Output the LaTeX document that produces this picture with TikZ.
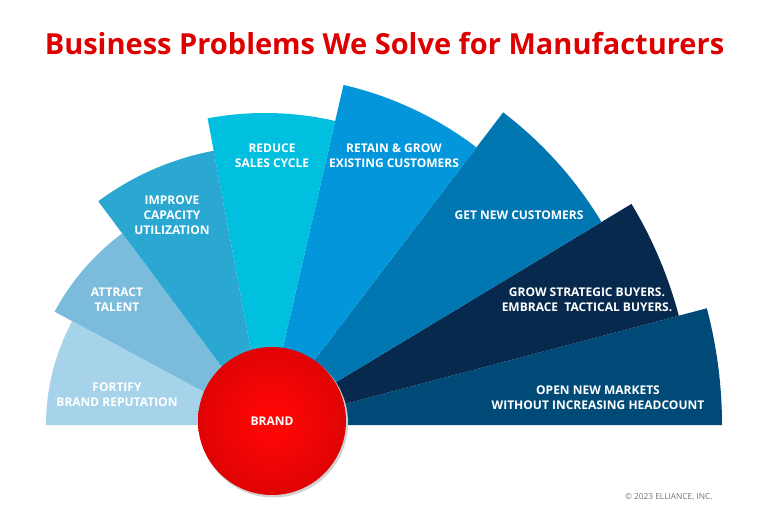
\documentclass[tikz,border=0pt]{standalone}
\usepackage{fontspec}
\setmainfont{Open Sans}
\usepackage{tikz}
\usepackage{xcolor}
\definecolor{titlered}{HTML}{DD0000}
\definecolor{cfortify}{HTML}{A6D3EA}
\definecolor{cattract}{HTML}{7BBCDC}
\definecolor{cimprove}{HTML}{2BA8D2}
\definecolor{creduce}{HTML}{00BFDF}
\definecolor{cretain}{HTML}{0396DA}
\definecolor{cgetnew}{HTML}{0177B2}
\definecolor{cgrow}{HTML}{08294E}
\definecolor{copen}{HTML}{004A77}
\definecolor{brandhi}{HTML}{FF0606}
\definecolor{brandlo}{HTML}{BA0000}
\pgfdeclareradialshading{brandball}{\pgfpoint{0bp}{0bp}}{color(0bp)=(brandhi); color(6bp)=(brandhi!95!brandlo); color(50bp)=(brandlo)}
\tikzset{fanlbl/.style={text=white, align=center, font=\bfseries\fontsize{12}{14.8}\selectfont}}

\begin{document}
\begin{tikzpicture}[x=1pt,y=1pt]
  \useasboundingbox (0,0) rectangle (768,512); \coordinate (C) at (265,87);
  \fill[copen] (C) -- ++(0:457) arc[start angle=0, end angle=14.8, radius=457] -- cycle;
  \fill[cgrow] (C) -- ++(14.8:428) arc[start angle=14.8, end angle=31.1, radius=428] -- cycle;
  \fill[cgetnew] (C) -- ++(31.1:393) arc[start angle=31.1, end angle=52.7, radius=393] -- cycle;
  \fill[cretain] (C) -- ++(52.7:349) arc[start angle=52.7, end angle=77, radius=349] -- cycle;
  \fill[creduce] (C) -- ++(77:312) arc[start angle=77, end angle=100.6, radius=312] -- cycle;
  \fill[cimprove] (C) -- ++(100.6:279) arc[start angle=100.6, end angle=126.7, radius=279] -- cycle;
  \fill[cattract] (C) -- ++(126.7:239) arc[start angle=126.7, end angle=151.7, radius=239] -- cycle;
  \fill[cfortify] (C) -- ++(151.7:219) arc[start angle=151.7, end angle=180, radius=219] -- cycle;
  \fill[black!18] (273.5,89) circle (74.5);
  \node[circle, minimum size=148pt, inner sep=0pt, shading=brandball, fanlbl] (brand) at (272,91) {BRAND};
  \node[anchor=base, text=titlered, font=\bfseries\fontsize{29}{34}\selectfont] (title) at (384.5,457) {Business Problems We Solve for Manufacturers};
  \node[fanlbl] (fortify) at (117,117.5) {FORTIFY\\BRAND REPUTATION};
  \node[fanlbl] (attract) at (117,212) {ATTRACT\\TALENT};
  \node[fanlbl] (improve) at (172,297) {IMPROVE\\CAPACITY\\UTILIZATION};
  \node[fanlbl] (reduce) at (272,356) {REDUCE\\SALES CYCLE};
  \node[fanlbl] (retain) at (394,356.5) {RETAIN \& GROW\\EXISTING CUSTOMERS};
  \node[fanlbl] (getnew) at (519,297) {GET NEW CUSTOMERS};
  \node[fanlbl] (grow) at (587,212.5) {GROW STRATEGIC BUYERS.\\EMBRACE\ \ TACTICAL BUYERS.};
  \node[fanlbl] (opennew) at (598,114.5) {OPEN NEW MARKETS\\WITHOUT INCREASING HEADCOUNT};
  \node[anchor=east, text=black!55, font=\fontsize{8.3}{10}\selectfont] (copy) at (716,15) {© 2023 ELLIANCE, INC.};
\end{tikzpicture}
\end{document}
